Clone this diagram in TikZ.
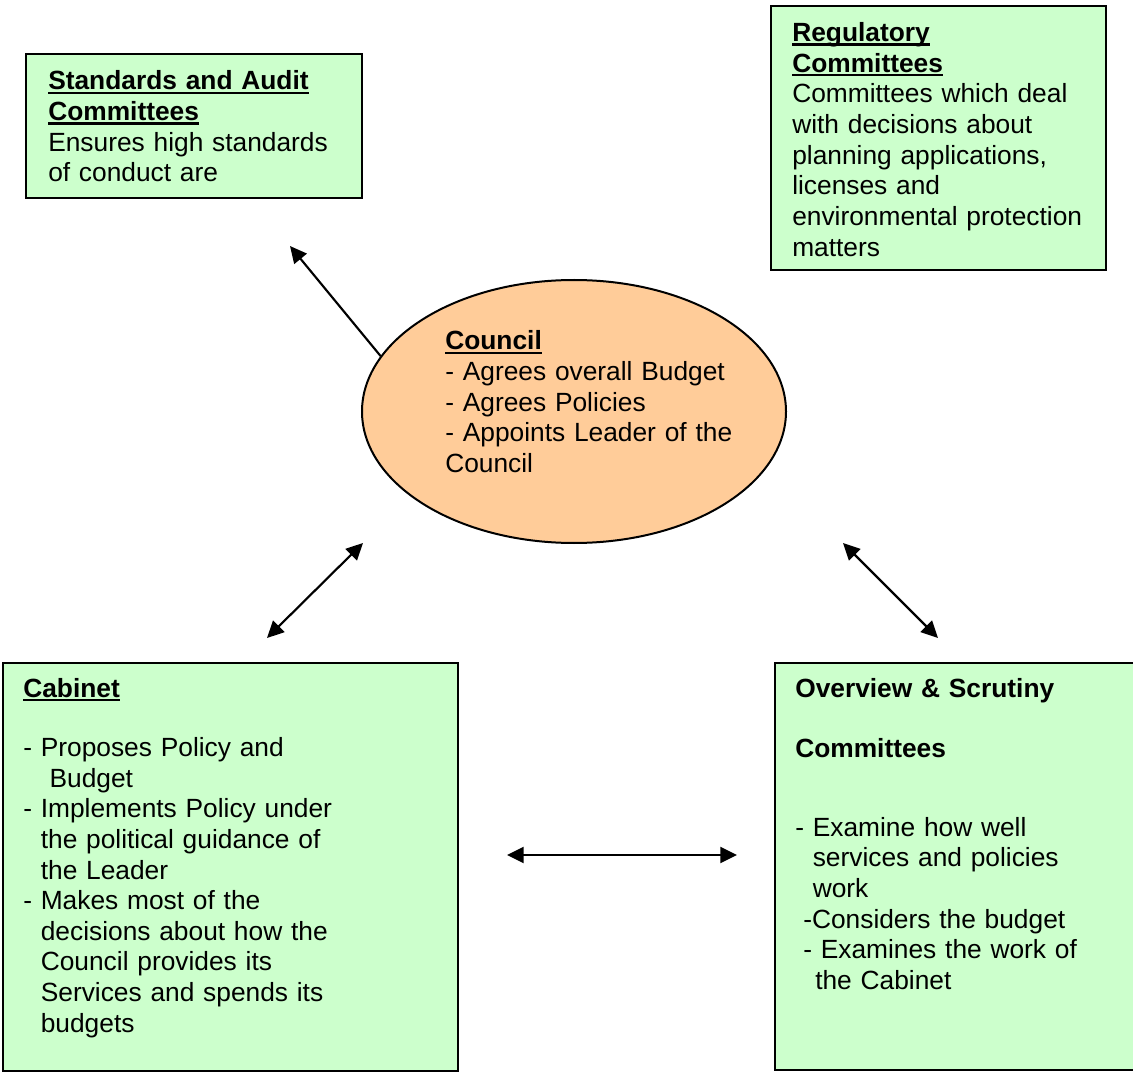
\documentclass[tikz,border=0pt]{standalone}
\usepackage{fontspec}
\setmainfont{Liberation Sans}
\usetikzlibrary{arrows.meta,shapes.geometric,fit}
\definecolor{boxgreen}{HTML}{CCFFCC}
\definecolor{ellorange}{HTML}{FFCC99}
\newcommand\myul[1]{\leavevmode\setbox0\hbox{#1}\rlap{\rule[-3.2pt]{\wd0}{2pt}}\box0}
\newcommand\ind{\hphantom{- }}
\tikzset{
 box/.style={draw=black, line width=1.5pt, fill=boxgreen, inner sep=0pt},
 txt/.style={anchor=base west, inner sep=0pt, text width=420pt, align=left, font=\fontsize{19.75pt}{23pt}\selectfont},
 conn/.style={line width=1.6pt, -{Triangle[length=12.5pt,width=12pt]}},
 dconn/.style={line width=1.6pt, {Triangle[length=12.5pt,width=12pt]}-{Triangle[length=12.5pt,width=12pt]}},
}
\begin{document}
\begin{tikzpicture}[x=0.75pt,y=-0.75pt]
\clip (0,0) rectangle (1133,1073);
\fill[white] (0,0) rectangle (1133,1073);

% boxes
\node[box, fit={(26,54) (362,198)}] (std) {};
\node[box, fit={(771,6) (1106,270)}] (reg) {};
\node[box, fit={(3,663) (458,1071)}] (cab) {};
\node[box, fit={(775,663) (1145,1070)}] (ovs) {};
\node[draw=black, line width=1.5pt, fill=ellorange, ellipse, minimum width=318pt, minimum height=197.25pt, inner sep=0pt] (council) at (574,411.5) {};

% texts
\node[txt] (stdtext) at (48,90) {\myul{\textbf{Standards and Audit}}\\
\myul{\textbf{Committees}}\\
Ensures high standards\\
of conduct are};

\node[txt] (regtext) at (792,41.5) {\myul{\textbf{Regulatory}}\\
\myul{\textbf{Committees}}\\
Committees which deal\\
with decisions about\\
planning applications,\\
licenses and\\
environmental protection\\
matters};

\node[txt] (counciltext) at (445,350) {\myul{\textbf{Council}}\\
- Agrees overall Budget\\
- Agrees Policies\\
- Appoints Leader of the\\
Council};

\node[txt] (cabtext) at (23,697) {\myul{\textbf{Cabinet}}\\[21.5pt]
- Proposes Policy and\\
\ind\ Budget\\
- Implements Policy under\\
\ind the political guidance of\\
\ind the Leader\\
- Makes most of the\\
\ind decisions about how the\\
\ind Council provides its\\
\ind Services and spends its\\
\ind budgets};

\node[txt] (ovstext) at (795,697) {\textbf{Overview \& Scrutiny}\\[22.5pt]
\textbf{Committees}\\[35.8pt]
- Examine how well\\
\ind services and policies\\
\ind work\\
\hspace*{6pt}-Considers the budget\\
\hspace*{6pt}- Examines the work of\\
\hspace*{15pt}the Cabinet};

% connector end points
\coordinate (stdtip) at (290,246);
\coordinate (cabend) at (267,638);
\coordinate (counciLL) at (363,543);
\coordinate (counciLR) at (843,543);
\coordinate (ovsend) at (938,638);
\coordinate (cabright) at (507,855);
\coordinate (ovsleft) at (737,855);

% connectors
\draw[conn] (council.164) -- (stdtip);
\draw[dconn] (cabend) -- (counciLL);
\draw[dconn] (counciLR) -- (ovsend);
\draw[dconn] (cabright) -- (ovsleft);
\end{tikzpicture}
\end{document}
